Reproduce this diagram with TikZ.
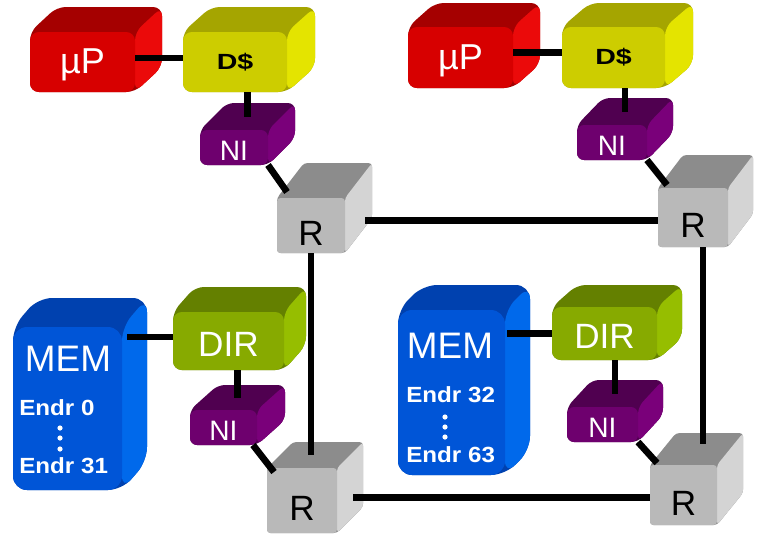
\documentclass[tikz,border=0pt]{standalone}
\usepackage{fontspec}
\setmainfont{Liberation Sans}
\usepackage{graphicx}
\usetikzlibrary{calc,positioning}

% face colours: F = front, T = top, S = side
\definecolor{upF}{RGB}{215,0,0}
\definecolor{upT}{RGB}{165,0,0}
\definecolor{upS}{RGB}{235,10,10}
\definecolor{dcF}{RGB}{205,205,0}
\definecolor{dcT}{RGB}{165,165,0}
\definecolor{dcS}{RGB}{228,228,0}
\definecolor{niF}{RGB}{110,0,110}
\definecolor{niT}{RGB}{80,0,80}
\definecolor{niS}{RGB}{122,0,122}
\definecolor{rtF}{RGB}{185,185,185}
\definecolor{rtT}{RGB}{140,140,140}
\definecolor{rtS}{RGB}{212,212,212}
\definecolor{drF}{RGB}{135,170,0}
\definecolor{drT}{RGB}{100,128,0}
\definecolor{drS}{RGB}{150,190,0}
\definecolor{mmF}{RGB}{0,85,215}
\definecolor{mmT}{RGB}{0,65,175}
\definecolor{mmS}{RGB}{0,105,235}

\begin{document}
\begin{tikzpicture}[x=0.02cm,y=-0.02cm,
    link/.style={line width=3.8pt, black},
    txt/.style={inner sep=0pt, text=white},
    endr/.style={inner sep=0pt, text=white, font=\fontsize{12.5}{13}\selectfont\bfseries}]
    \useasboundingbox (0,0) rectangle (757,538);

    % Boxes: name / front x1 / y1 / x2 / y2 / depth x / depth y / colour / corner
    \foreach \nm/\xa/\ya/\xb/\yb/\dx/\dy/\col/\rad in {
        upA/30/32/135/92/27/25/up/5, dcA/183/32/287/92/28/25/dc/5,
        niA/200/130/268/165/27/27/ni/4, rA/277/198/345/253/27/35/rt/2,
        upB/408/27/513/88/27/24/up/5, dcB/562/27/665/88/28/24/dc/5,
        niB/577/125/647/160/26/27/ni/4, rB/658/188/728/247/25/33/rt/2,
        mmA/13/327/122/490/25/29/mm/8, drA/173/312/284/370/22/25/dr/5,
        niA2/190/410/257/445/28/25/ni/4, rA2/267/468/337/533/26/26/rt/2,
        mmB/398/310/505/475/25/25/mm/8, drB/552/307/657/360/25/22/dr/5,
        niB2/567/407/638/442/25/27/ni/4, rB2/650/465/717/525/26/32/rt/2} {
        \fill[\col T, rounded corners=\rad pt] (\xa,\yb) -- (\xa,\ya) -- (\xa+\dx,\ya-\dy)
            -- (\xb+\dx,\ya-\dy) -- (\xb+\dx,\yb-\dy) -- (\xb,\yb) -- cycle;
        \fill[\col S, rounded corners=\rad pt] (\xb,\ya) -- (\xb+\dx,\ya-\dy)
            -- (\xb+\dx,\yb-\dy) -- (\xb,\yb) -- cycle;
        \node[fill=\col F, rounded corners=\rad pt, inner sep=0pt, outer sep=0pt,
            minimum width={(\xb-\xa)*0.02cm}, minimum height={(\yb-\ya)*0.02cm}]
            (\nm) at ({(\xa+\xb)/2},{(\ya+\yb)/2}) {};
        \coordinate (\nm t) at ({(\xa+\xb+\dx)/2},{\ya-\dy/2});
    }

    % Labels
    \foreach \nm in {upA,upB} {
        \node[txt, font=\fontsize{20.5}{21}\selectfont] (\nm l) at ($(\nm)+(0,3)$) {µP};
    }
    \foreach \nm in {dcA,dcB} {
        \node[inner sep=0pt, font=\fontsize{12.5}{13}\selectfont\bfseries] (\nm l) at (\nm) {\scalebox{1.3}[1]{D\$}};
    }
    \foreach \nm in {niA,niB,niA2,niB2} {
        \node[txt, font=\fontsize{16}{16}\selectfont] (\nm l) at ($(\nm)+(0,3)$) {NI};
    }
    \foreach \nm in {rA,rB,rA2,rB2} {
        \node[inner sep=0pt, font=\fontsize{20}{20}\selectfont] (\nm l) at ($(\nm)+(0,8)$) {R};
    }
    \foreach \nm in {drA,drB} {
        \node[txt, font=\fontsize{20}{20}\selectfont] (\nm l) at ($(\nm)+(0,3)$) {DIR};
    }

    % Memory banks
    \node[txt, font=\fontsize{21}{21}\selectfont] (mmAl) at (68,359) {MEM};
    \node[endr, anchor=west] (mmA0) at (19,408) {\scalebox{1.1}[1]{Endr 0}};
    \node[endr, anchor=west] (mmA31) at (19,466) {\scalebox{1.1}[1]{Endr 31}};
    \foreach \y in {428,438,449} {
        \fill[white] (60,\y) circle (2.6);
    }
    \node[txt, font=\fontsize{21}{21}\selectfont] (mmBl) at (450,346) {MEM};
    \node[endr, anchor=west] (mmB32) at (406,395) {\scalebox{1.1}[1]{Endr 32}};
    \node[endr, anchor=west] (mmB63) at (406,455) {\scalebox{1.1}[1]{Endr 63}};
    \foreach \y in {417,427,437} {
        \fill[white] (445,\y) circle (2.6);
    }

    % Node A (top left)
    \draw[link] ([yshift=0.08cm]upA.east) coordinate (a1) -- (a1 -| dcA.west);
    \draw[link] (dcA.south -| niAt) -- (niAt);
    \draw[link] (niA.south east) -- ($(rA.north west)+(10,-6)$);

    % Node B (top right)
    \draw[link] ([yshift=0.1cm]upB.east) coordinate (b1) -- (b1 -| dcB.west);
    \draw[link] (dcB.south -| niBt) -- (niBt);
    \draw[link] (niB.south east) -- ($(rB.north west)+(9,-3)$);

    % Memory nodes (bottom)
    \draw[link] ([yshift=0.08cm]drA.west) coordinate (m1) -- ($(m1 -| mmA.east)+(5,0)$);
    \draw[link] (drA.south -| niA2t) -- (niA2t);
    \draw[link] ($(niA2.south east)+(-4,0)$) -- ($(rA2.north west)+(7,4)$);
    \draw[link] (drB.west) coordinate (m2) -- ($(m2 -| mmB.east)+(2,0)$);
    \draw[link] (drB.south -| niB2t) -- (niB2t);
    \draw[link] (niB2.south east) -- ($(rB2.north west)+(7,-2)$);

    % Router ring
    \draw[link] ($(rA.east)+(20,-5)$) coordinate (h1) -- (h1 -| rB.west);
    \draw[link] ($(rA2.east)+(16,-3)$) coordinate (h2) -- (h2 -| rB2.west);
    \draw[link] (rA.south) -- (rA.south |- rA2t);
    \draw[link] ($(rB.south)+(10,0)$) coordinate (v2) -- ($(v2 |- rB2t)+(0,-5)$);
\end{tikzpicture}
\end{document}
